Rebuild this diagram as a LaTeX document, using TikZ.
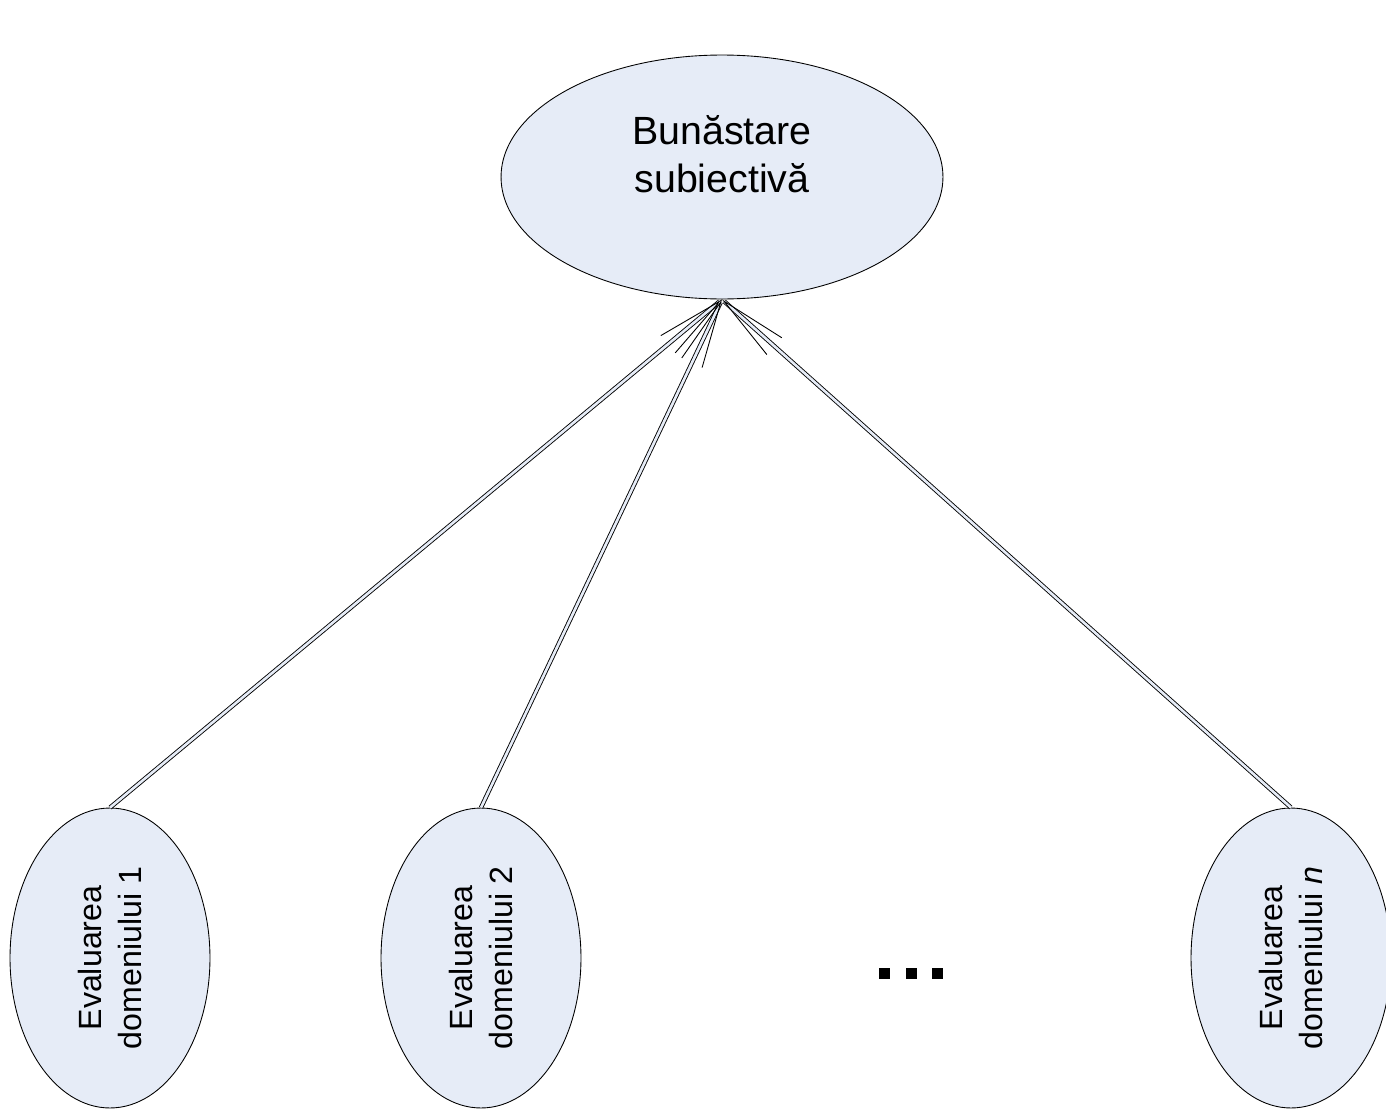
\documentclass[tikz,border=0pt]{standalone}
\usepackage{fontspec}
\setmainfont{Liberation Sans}
\usepackage{tikz}
\usetikzlibrary{shapes.geometric,arrows.meta}
\definecolor{BubbleBlue}{RGB}{230, 236, 247}

\begin{document}
\begin{tikzpicture}[
    x = 0.02cm,
    y = -0.02cm,
    bubble/.style = {
        shape      = ellipse,
        draw       = black,
        fill       = BubbleBlue,
        line width = 0.5pt,
        inner sep  = 0pt,
        align      = center,
    },
    evalbox/.style = {
        bubble,
        rotate         = 90,
        minimum width  = 6cm,
        minimum height = 4cm,
        font           = \fontsize{18.3}{22.7}\selectfont,
    },
    feed/.style = {
        double,
        double distance = 1.5pt,
        double          = BubbleBlue,
        line width      = 0.5pt,
        -{Straight Barb[length=1.35cm, width=0.45cm]},
    },
]
    \useasboundingbox (0, 0) rectangle (1386, 1112);

    \node (top) at (722, 177) [bubble, minimum width = 8.84cm, minimum height = 4.88cm] {};
    \node (toptext) at (722, 154) [align = center, font = \fontsize{22.4}{27}\selectfont]
        {Bunăstare\\subiectivă};

    \node (dom1) at (110, 958)  [evalbox] {Evaluarea\\domeniului 1};
    \node (dom2) at (481, 958)  [evalbox] {Evaluarea\\domeniului 2};
    \node (domn) at (1291, 958) [evalbox] {Evaluarea\\domeniului \textit{n}};

    \draw[feed] (dom1.east) -- (top.south);
    \draw[feed] (dom2.east) -- (top.south);
    \draw[feed] (domn.east) -- (top.south);

    % dots between the domains
    \foreach \x in {884, 911, 937}
        \fill (\x - 5.5, 967.5) rectangle (\x + 5.5, 978.5);
\end{tikzpicture}
\end{document}
